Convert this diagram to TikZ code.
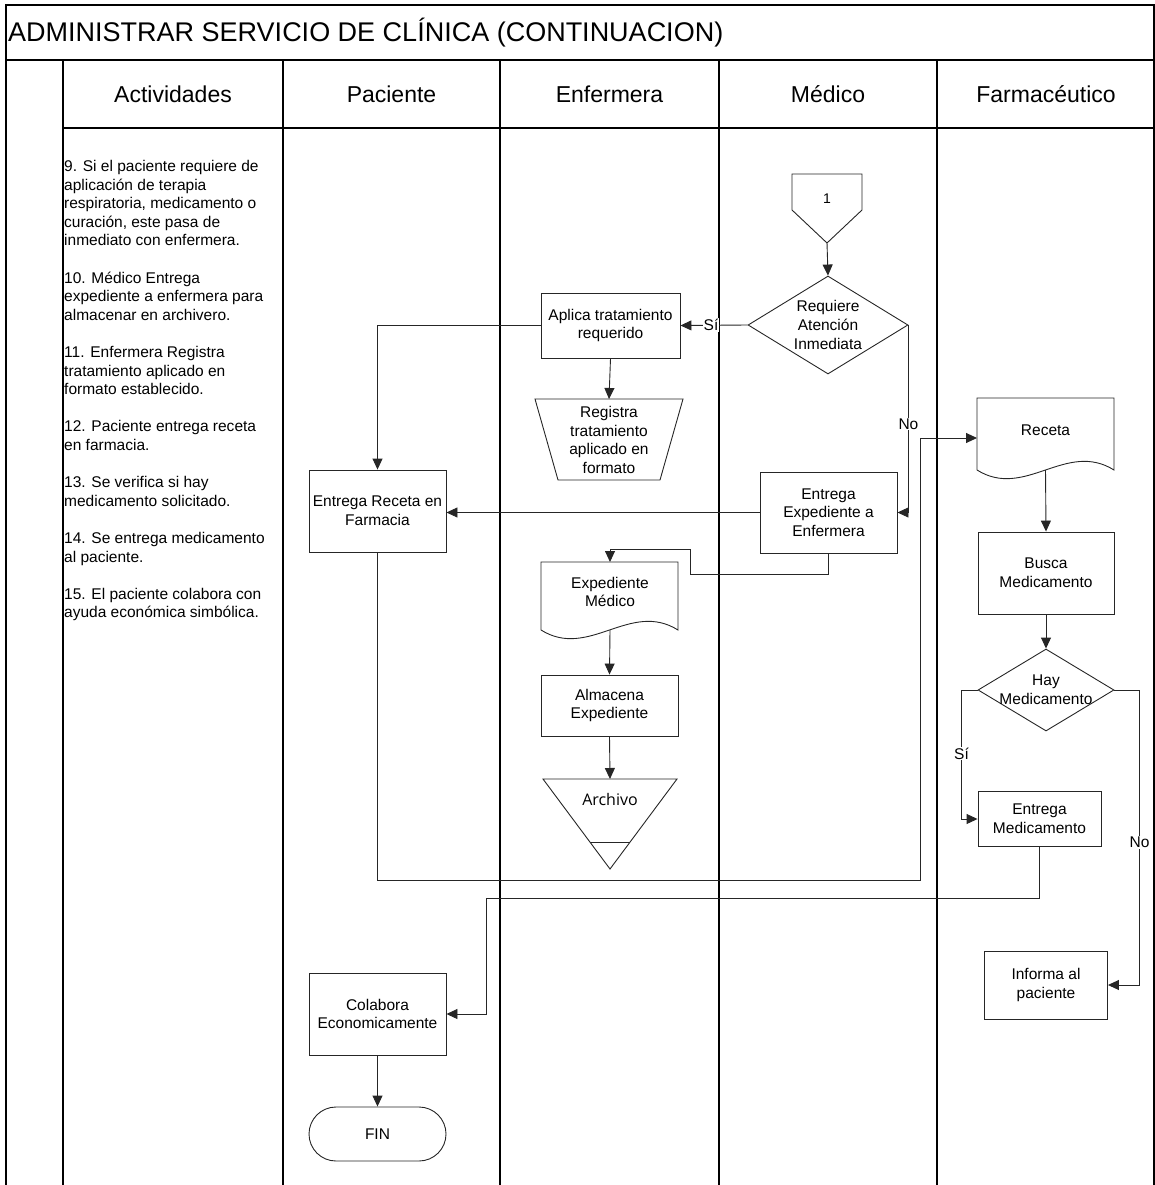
\documentclass[tikz,border=0pt]{standalone}
\usepackage{fontspec}
\setmainfont{Liberation Sans}
\newfontfamily\archfont{Open Sans}
\usetikzlibrary{shapes.geometric,arrows.meta}
\newcommand\shapefont{\fontsize{15.5}{18.6}\selectfont}
\newcommand\headfont{\fontsize{23}{27}\selectfont}
\newcommand\titlefont{\fontsize{27}{32}\selectfont}
\begin{document}
\begin{tikzpicture}[x=1pt,y=-1pt,
  lane/.style={draw=black, line width=1.2pt},
  outline/.style={draw=black!85, line width=0.9pt},
  conn/.style={draw=black!85, line width=0.9pt},
  arr/.style={conn, -{Triangle[length=11pt,width=10pt]}},
  proc/.style={outline, rectangle, align=center, font=\shapefont, inner sep=0pt},
  txt/.style={align=center, font=\shapefont, inner sep=0pt},
  lab/.style={fill=white, inner sep=1pt, font=\shapefont},
  hd/.style={font=\headfont, inner sep=0pt}]
\useasboundingbox (0,0) rectangle (1155,1185);
% frame and lanes
\draw[lane] (6,1185) -- (6,5) -- (1154,5) -- (1154,1185);
\draw[draw=black, line width=2pt] (6,60) -- (1154,60);
\draw[lane] (63,128) -- (1154,128);
\foreach \x in {63,283,500,719,937} { \draw[lane] (\x,60) -- (\x,1185); }
\node[font=\titlefont, anchor=west, inner sep=0pt] (title) at (8,33) {ADMINISTRAR SERVICIO DE CLÍNICA (CONTINUACION)};
\node[hd] (hAct) at (173,94) {Actividades};
\node[hd] (hPac) at (391.5,94) {Paciente};
\node[hd] (hEnf) at (609.5,94) {Enfermera};
\node[hd] (hMed) at (828,94) {Médico};
\node[hd] (hFar) at (1046,94) {Farmacéutico};
% activities
\node[anchor=north west, align=left, font=\shapefont, inner sep=0pt] (acts) at (64,160) {%
9. Si el paciente requiere de\\
aplicación de terapia\\
respiratoria, medicamento o\\
curación, este pasa de\\
inmediato con enfermera.\\[18.6pt]
10. Médico Entrega\\
expediente a enfermera para\\
almacenar en archivero.\\[18.6pt]
11. Enfermera Registra\\
tratamiento aplicado en\\
formato establecido.\\[18.6pt]
12. Paciente entrega receta\\
en farmacia.\\[18.6pt]
13. Se verifica si hay\\
medicamento solicitado.\\[18.6pt]
14. Se entrega medicamento\\
al paciente.\\[18.6pt]
15. El paciente colabora con\\
ayuda económica simbólica.};
% off-page connector 1
\draw[outline] (792,174) -- (862,174) -- (862,210) -- (827,243) -- (792,210) -- cycle;
\node[txt, font=\fontsize{14}{17}\selectfont] (c1) at (827,199) {1};
\coordinate (c1tip) at (827,243);
% decision Requiere
\node[outline, diamond, minimum width=160pt, minimum height=98pt, inner sep=0pt] (req) at (828,325) {};
\node[txt] (reqt) at (828,325) {Requiere\\Atención\\Inmediata};
% processes
\node[proc, minimum width=139pt, minimum height=65pt] (aplica) at (610.5,325.5) {Aplica tratamiento\\requerido};
\node[proc, minimum width=137pt, minimum height=82pt] (entrec) at (377.5,511) {Entrega Receta en\\Farmacia};
\node[proc, minimum width=137pt, minimum height=81pt] (expent) at (828.5,512.5) {Entrega\\Expediente a\\Enfermera};
\node[proc, minimum width=137pt, minimum height=61pt] (almacena) at (609.5,705.5) {Almacena\\Expediente};
\node[proc, minimum width=136pt, minimum height=82pt] (busca) at (1046,573) {Busca\\Medicamento};
\node[proc, minimum width=123pt, minimum height=55pt] (entmed) at (1039.5,819) {Entrega\\Medicamento};
\node[proc, minimum width=123pt, minimum height=68pt] (informa) at (1046,985) {Informa al\\paciente};
\node[proc, minimum width=137pt, minimum height=82pt] (colabora) at (377.5,1014) {Colabora\\Economicamente};
\node[proc, minimum width=137pt, minimum height=54pt, rounded corners=27pt] (fin) at (377.5,1134) {FIN};
% manual input (registra)
\draw[outline] (535,399) -- (683,399) -- (660,480) -- (558,480) -- cycle;
\coordinate (regtop) at (609,399);
\node[txt] (registra) at (609,440) {Registra\\tratamiento\\aplicado en\\formato};
% document Expediente Medico
\draw[outline] (541,630) -- (541,562) -- (678,562) -- (678,630) .. controls (630,600) and (589,660) .. (541,630);
\coordinate (expmedtop) at (610,562);
\coordinate (expmedbot) at (610,630);
\node[txt] (expmed) at (610,592) {Expediente\\Médico};
% archive
\draw[outline] (543,779) -- (677,779) -- (610,869) -- cycle;
\draw[outline] (590,842) -- (630,842);
\coordinate (archtop) at (610,779);
\node[inner sep=0pt, font=\archfont\fontsize{16}{19}\selectfont] (archivo) at (610,799) {Archivo};
% document Receta
\draw[outline] (977,470) -- (977,398) -- (1114,398) -- (1114,470) .. controls (1066,440) and (1025,500) .. (977,470);
\coordinate (recetaW) at (977,438);
\coordinate (recetabot) at (1045.5,470);
\node[txt] (receta) at (1045.5,430) {Receta};
% decision Hay Medicamento
\node[outline, diamond, minimum width=136pt, minimum height=82pt, inner sep=0pt] (hay) at (1046,690) {};
\node[txt] (hayt) at (1046,690) {Hay\\Medicamento};
% connectors
\draw[arr] (c1tip) -- (req.north);
\draw[arr] (req.west) -- node[lab, pos=0.544] {Sí} (aplica.east);
\draw[arr] (aplica.south) -- (regtop);
\draw[arr] (aplica.west) -| (entrec.north);
\draw[arr] (req.east) |- node[lab, pos=0.264] {No} (expent.east);
\draw[arr] (expent.west) -- (expent.west -| entrec.east);
\draw[arr] (expent.south) -- ++(0,21) -| (690,549) -| (expmedtop);
\draw[arr] (expmedbot) -- (almacena.north);
\draw[arr] (almacena.south) -- (archtop);
\draw[arr] (entrec.south) |- (920,880) |- (recetaW);
\draw[arr] (recetabot) -- (busca.north);
\draw[arr] (busca.south) -- (hay.north);
\draw[arr] (hay.west) -- ++(-16,0) |- node[lab, pos=0.246] {Sí} (entmed.west);
\draw[arr] (hay.east) -- ++(25,0) |- node[lab, pos=0.258] {No} (informa.east);
\draw[arr] (entmed.south) |- (486,898) |- (colabora.east);
\draw[arr] (colabora.south) -- (fin.north);
\end{tikzpicture}
\end{document}
